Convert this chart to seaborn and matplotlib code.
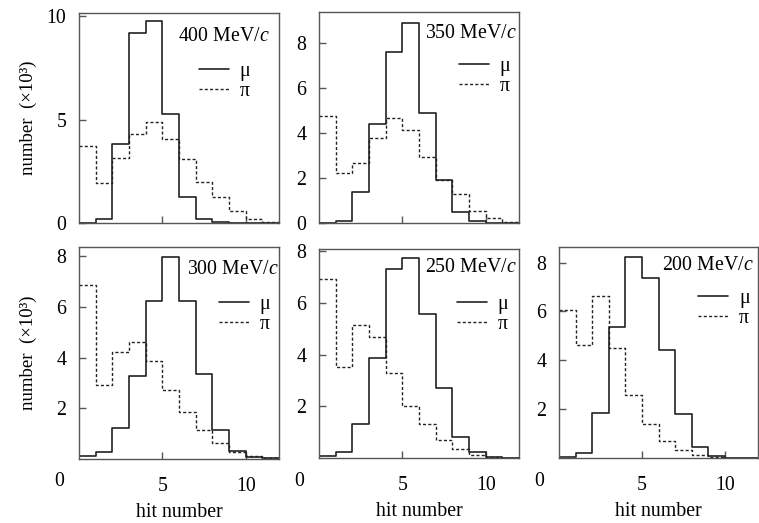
import numpy as np
import pandas as pd
import matplotlib
matplotlib.use("Agg")
import matplotlib.pyplot as plt
import seaborn as sns

# ---------------- data ----------------
bin_edges = list(range(0, 13))            # hit number bins 0..12
bin_centers = [b + 0.5 for b in range(12)]

momenta = ["400", "350", "300", "250", "200"]

mu_400 = [0.0, 0.2, 3.8, 9.2, 9.74, 5.28, 1.27, 0.18, 0.05, 0.0, 0.0, 0.0]
pi_400 = [3.73, 1.95, 3.12, 4.3, 4.89, 4.04, 3.07, 2.0, 1.27, 0.57, 0.18, 0.05]

mu_350 = [0.02, 0.09, 1.38, 4.41, 7.6, 8.9, 4.9, 1.9, 0.5, 0.09, 0.02, 0.0]
pi_350 = [4.74, 2.24, 2.68, 3.8, 4.67, 4.12, 2.92, 1.91, 1.27, 0.53, 0.22, 0.06]

mu_300 = [0.12, 0.27, 1.21, 3.29, 6.23, 7.97, 6.23, 3.34, 1.13, 0.31, 0.09, 0.02]
pi_300 = [6.88, 2.91, 4.22, 4.63, 3.85, 2.73, 1.87, 1.13, 0.64, 0.29, 0.12, 0.04]

mu_250 = [0.06, 0.22, 1.33, 3.85, 7.31, 7.74, 5.57, 2.69, 0.83, 0.22, 0.03, 0.0]
pi_250 = [6.93, 3.5, 5.14, 4.69, 3.3, 2.0, 1.3, 0.71, 0.35, 0.13, 0.03, 0.0]

mu_200 = [0.04, 0.22, 1.86, 5.38, 8.25, 7.39, 4.42, 1.8, 0.45, 0.07, 0.01, 0.0]
pi_200 = [6.06, 4.63, 6.64, 4.52, 2.6, 1.38, 0.68, 0.34, 0.11, 0.04, 0.0, 0.0]

mu_series = [mu_400, mu_350, mu_300, mu_250, mu_200]
pi_series = [pi_400, pi_350, pi_300, pi_250, pi_200]

y_tops = [10.15, 9.38, 8.36, 8.08, 8.64]
y_ticks = [[0, 5, 10], [0, 2, 4, 6, 8], [2, 4, 6, 8], [2, 4, 6, 8], [2, 4, 6, 8]]

# ---------------- style ----------------
sns.set_theme(style="white")
plt.rcParams["font.family"] = ["Liberation Serif", "DejaVu Serif"]
plt.rcParams["mathtext.fontset"] = "custom"
plt.rcParams["mathtext.rm"] = "Liberation Serif"
plt.rcParams["mathtext.it"] = "Liberation Serif:italic"
plt.rcParams["text.color"] = "black"
plt.rcParams["axes.labelcolor"] = "black"

W, H = 759, 523
fig = plt.figure(figsize=(W / 100, H / 100), dpi=100)

# panel boxes in pixels: (left, top, right, bottom)
boxes = [(79, 13, 279, 223), (319, 12, 519, 223),
         (79, 247, 279, 459), (319, 249, 519, 458), (559, 247, 758, 458)]

# text/legend positions in axes fraction
mom_pos = [(0.955, 0.89), (0.99, 0.90), (0.998, 0.893), (0.99, 0.912), (0.98, 0.912)]
leg_pos = [(0.60, 0.765), (0.70, 0.785), (0.70, 0.775), (0.69, 0.78), (0.70, 0.80)]

line_col = "#222222"
spine_col = "#555555"
FS = 14.3

for i in range(5):
    l, t, r, b = boxes[i]
    ax = fig.add_axes([l / W, 1 - b / H, (r - l) / W, (b - t) / H])
    df = pd.DataFrame({"hit": bin_centers, "mu": mu_series[i], "pi": pi_series[i]})
    sns.histplot(data=df, x="hit", weights="mu", bins=bin_edges, element="step",
                 fill=False, color=line_col, linewidth=1.2, ax=ax, label="μ")
    sns.histplot(data=df, x="hit", weights="pi", bins=bin_edges, element="step",
                 fill=False, color=line_col, linewidth=1.0, linestyle=(0, (2.2, 1.6)),
                 ax=ax, label="π")
    ax.set_xlim(0, 12)
    ax.set_ylim(0, y_tops[i])
    ax.set_xticks([5, 10])
    ax.set_yticks(y_ticks[i])
    ax.tick_params(direction="in", length=5, width=1, color=spine_col,
                   labelsize=FS, labelcolor="black", bottom=True, left=True)
    ax.tick_params(axis="y", pad=9)
    ax.tick_params(axis="x", pad=13)
    for s in ax.spines.values():
        s.set_color(spine_col)
        s.set_linewidth(1.0)
    ax.set_xlabel("")
    ax.set_ylabel("")
    if i < 2:
        ax.set_xticklabels([])
    else:
        ax.set_xticklabels(["5", "10"])
        ax.set_xlabel("hit number", fontsize=FS, labelpad=5)
        fig.text((l - 20) / W, 1 - 482 / H, "0", fontsize=FS, ha="center", va="center")
    if i in (0, 2):
        ax.set_ylabel("number  (×10³)", fontsize=13.5)
        ax.yaxis.set_label_coords((37 - 79) / 200, 0.5)
    ax.text(mom_pos[i][0], mom_pos[i][1], momenta[i] + " MeV/$c$", transform=ax.transAxes,
            ha="right", va="center", fontsize=FS)
    ax.legend(loc="upper left", bbox_to_anchor=leg_pos[i], frameon=False, fontsize=FS,
              handlelength=1.5, handletextpad=0.55, labelspacing=0.05,
              borderpad=0, borderaxespad=0)

fig.savefig("out.png", dpi=100)
